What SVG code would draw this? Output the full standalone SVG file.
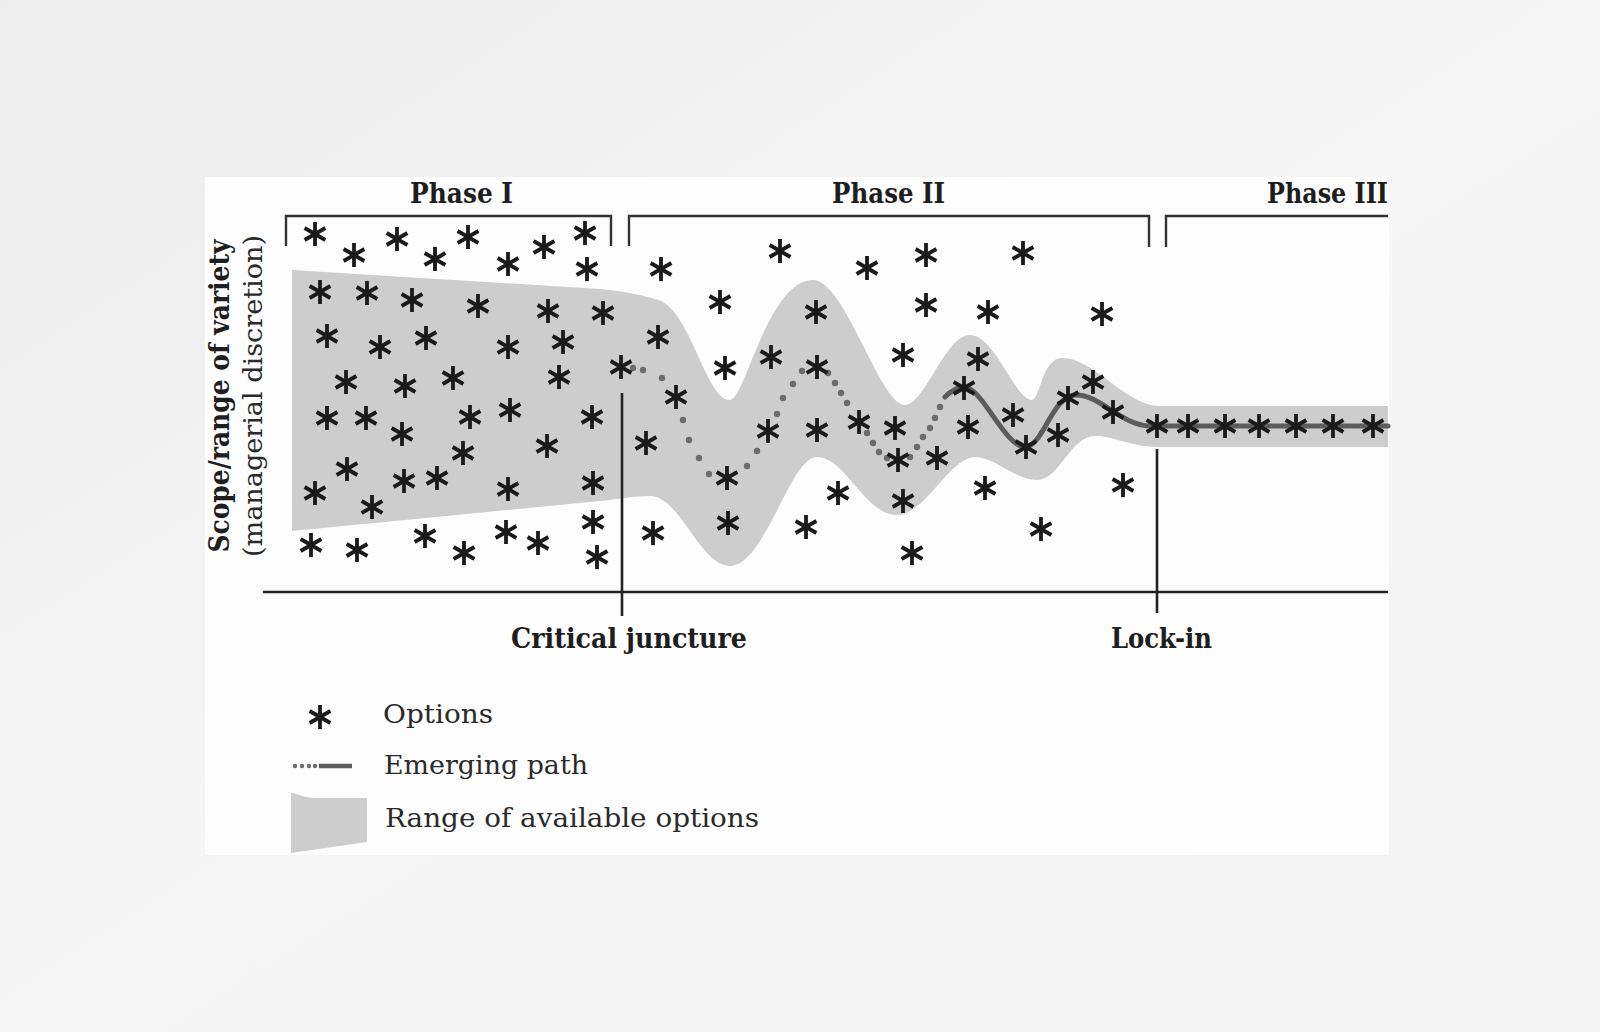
<svg xmlns="http://www.w3.org/2000/svg" width="1600" height="1032" viewBox="0 0 1600 1032">
  <defs>
    <linearGradient id="bg" x1="0" y1="0" x2="1" y2="1">
      <stop offset="0" stop-color="#ececec"/>
      <stop offset="0.5" stop-color="#f6f6f6"/>
      <stop offset="1" stop-color="#f3f3f3"/>
    </linearGradient>
    <g id="ast">
      <path d="M0,-12V12M-10.4,-6L10.4,6M-10.4,6L10.4,-6" fill="none" stroke="#1a1a1a" stroke-width="3.8"/>
    </g>
    <style>
      .title { font-family: "DejaVu Serif", "Liberation Serif", serif; font-weight: bold; font-size: 27px; fill: #1e1e1e; }
      .legend { font-family: "DejaVu Serif", "Liberation Serif", serif; font-size: 26px; fill: #2a2a2a; }
      .axis { fill: none; stroke: #222; stroke-width: 2.6; }
      .bracket { fill: none; stroke: #333; stroke-width: 2.4; }
      .band { fill: #cdcdcd; }
      .dot { fill: #6c6c6c; }
      .solid { fill: none; stroke: #5c5c5c; stroke-width: 5; stroke-linecap: round; stroke-linejoin: round; }
    </style>
  </defs>

  <g id="background">
    <rect x="0" y="0" width="1600" height="1032" fill="url(#bg)"/>
    <rect x="205" y="177" width="1184" height="678" fill="#fdfdfd"/>
  </g>

  <g id="band">
    <path class="band" d="M292,270 L600,289 C625,291 645,296 655,299 C690,305 705,400 730,400 C745,400 768,280 813,280 C845,280 880,405 905,405 C925,405 945,335 970,335 C995,335 1015,400 1032,400 C1040,400 1042,358 1062,358 C1095,358 1125,406 1160,406 L1388,406 L1388,447 L1160,447 C1130,447 1115,436 1095,436 C1070,436 1060,480 1037,480 C1015,480 995,457 975,457 C950,457 925,515 897,515 C865,515 845,457 817,457 C790,457 765,566 730,566 C700,566 680,496 650,496 C630,496 615,500 600,501 L292,531 Z"/>
  </g>

  <g id="brackets">
    <path class="bracket" d="M286,246 V216 H611 V246"/>
    <path class="bracket" d="M629,246 V216 H1149 V247"/>
    <path class="bracket" d="M1166,247 V216 H1388"/>
  </g>

  <g id="phase-labels">
    <text class="title" x="461.5" y="203" text-anchor="middle" textLength="103" lengthAdjust="spacingAndGlyphs">Phase I</text>
    <text class="title" x="888.5" y="203" text-anchor="middle" textLength="113" lengthAdjust="spacingAndGlyphs">Phase II</text>
    <text class="title" x="1327.5" y="203" text-anchor="middle" textLength="121" lengthAdjust="spacingAndGlyphs">Phase III</text>
  </g>

  <g id="axes">
    <line class="axis" x1="263" y1="592" x2="1388" y2="592"/>
    <line class="axis" x1="622" y1="393" x2="622" y2="616"/>
    <line class="axis" x1="1157" y1="449" x2="1157" y2="613"/>
  </g>

  <g id="axis-labels">
    <text class="title" font-size="26" transform="translate(229,396) rotate(-90)" text-anchor="middle" textLength="313" lengthAdjust="spacingAndGlyphs">Scope/range of variety</text>
    <text class="legend" transform="translate(262,396) rotate(-90)" text-anchor="middle" textLength="322" lengthAdjust="spacingAndGlyphs">(managerial discretion)</text>
    <text class="title" x="629" y="648" text-anchor="middle" textLength="236" lengthAdjust="spacingAndGlyphs">Critical juncture</text>
    <text class="title" x="1161.5" y="648" text-anchor="middle" textLength="101" lengthAdjust="spacingAndGlyphs">Lock-in</text>
  </g>

  <g id="connectors">
    <g id="emerging-path-dotted">
      <circle class="dot" cx="633" cy="368" r="3.2"/>
      <circle class="dot" cx="643" cy="370" r="3.2"/>
      <circle class="dot" cx="662" cy="378" r="3.2"/>
      <circle class="dot" cx="683" cy="420" r="3.2"/>
      <circle class="dot" cx="689" cy="440" r="3.2"/>
      <circle class="dot" cx="699" cy="458" r="3.2"/>
      <circle class="dot" cx="709" cy="474" r="3.2"/>
      <circle class="dot" cx="747" cy="466" r="3.2"/>
      <circle class="dot" cx="757" cy="451" r="3.2"/>
      <circle class="dot" cx="777" cy="414" r="3.2"/>
      <circle class="dot" cx="783" cy="398" r="3.2"/>
      <circle class="dot" cx="793" cy="384" r="3.2"/>
      <circle class="dot" cx="802" cy="371" r="3.2"/>
      <circle class="dot" cx="828" cy="373" r="3.2"/>
      <circle class="dot" cx="835" cy="383" r="3.2"/>
      <circle class="dot" cx="841" cy="393" r="3.2"/>
      <circle class="dot" cx="847" cy="403" r="3.2"/>
      <circle class="dot" cx="867" cy="433" r="3.2"/>
      <circle class="dot" cx="873" cy="443" r="3.2"/>
      <circle class="dot" cx="879" cy="452" r="3.2"/>
      <circle class="dot" cx="887" cy="458" r="3.2"/>
      <circle class="dot" cx="910" cy="457" r="3.2"/>
      <circle class="dot" cx="917" cy="447" r="3.2"/>
      <circle class="dot" cx="923" cy="437" r="3.2"/>
      <circle class="dot" cx="930" cy="428" r="3.2"/>
      <circle class="dot" cx="935" cy="418" r="3.2"/>
      <circle class="dot" cx="940" cy="407" r="3.2"/>
    </g>
    <path id="emerging-path-solid" class="solid" d="M945,397 C952,390 957,387 964,387 C982,387 1005,447 1025,447 C1043,447 1052,396 1075,395 C1100,394 1120,425 1150,426 L1388,426"/>
  </g>

  <g id="options">
    <use href="#ast" x="315" y="234"/><use href="#ast" x="354" y="255"/><use href="#ast" x="397" y="239"/>
    <use href="#ast" x="435" y="259"/><use href="#ast" x="468" y="237"/><use href="#ast" x="508" y="264"/>
    <use href="#ast" x="544" y="247"/><use href="#ast" x="585" y="233"/><use href="#ast" x="587" y="269"/>
    <use href="#ast" x="320" y="292"/><use href="#ast" x="367" y="293"/><use href="#ast" x="412" y="300"/>
    <use href="#ast" x="478" y="306"/><use href="#ast" x="548" y="311"/><use href="#ast" x="603" y="313"/>
    <use href="#ast" x="327" y="336"/><use href="#ast" x="380" y="347"/><use href="#ast" x="426" y="338"/>
    <use href="#ast" x="508" y="347"/><use href="#ast" x="563" y="342"/><use href="#ast" x="621" y="367"/>
    <use href="#ast" x="346" y="382"/><use href="#ast" x="405" y="386"/><use href="#ast" x="453" y="378"/>
    <use href="#ast" x="559" y="377"/><use href="#ast" x="327" y="418"/><use href="#ast" x="366" y="418"/>
    <use href="#ast" x="402" y="434"/><use href="#ast" x="470" y="417"/><use href="#ast" x="510" y="410"/>
    <use href="#ast" x="592" y="417"/><use href="#ast" x="547" y="446"/><use href="#ast" x="463" y="453"/>
    <use href="#ast" x="347" y="469"/><use href="#ast" x="315" y="493"/><use href="#ast" x="404" y="481"/>
    <use href="#ast" x="437" y="478"/><use href="#ast" x="508" y="489"/><use href="#ast" x="593" y="483"/>
    <use href="#ast" x="372" y="507"/><use href="#ast" x="311" y="545"/><use href="#ast" x="357" y="550"/>
    <use href="#ast" x="425" y="536"/><use href="#ast" x="506" y="532"/><use href="#ast" x="464" y="553"/>
    <use href="#ast" x="538" y="543"/><use href="#ast" x="593" y="522"/><use href="#ast" x="597" y="557"/>

    <use href="#ast" x="661" y="269"/><use href="#ast" x="780" y="251"/><use href="#ast" x="867" y="268"/>
    <use href="#ast" x="926" y="255"/><use href="#ast" x="1023" y="253"/><use href="#ast" x="720" y="302"/>
    <use href="#ast" x="816" y="312"/><use href="#ast" x="926" y="305"/><use href="#ast" x="988" y="312"/>
    <use href="#ast" x="1102" y="314"/><use href="#ast" x="658" y="337"/><use href="#ast" x="725" y="368"/>
    <use href="#ast" x="771" y="357"/><use href="#ast" x="817" y="367"/><use href="#ast" x="903" y="355"/>
    <use href="#ast" x="978" y="359"/><use href="#ast" x="676" y="397"/><use href="#ast" x="964" y="388"/>
    <use href="#ast" x="1093" y="382"/><use href="#ast" x="1068" y="398"/><use href="#ast" x="646" y="443"/>
    <use href="#ast" x="768" y="431"/><use href="#ast" x="817" y="430"/><use href="#ast" x="859" y="422"/>
    <use href="#ast" x="895" y="428"/><use href="#ast" x="968" y="427"/><use href="#ast" x="1013" y="415"/>
    <use href="#ast" x="1113" y="412"/><use href="#ast" x="898" y="460"/><use href="#ast" x="937" y="458"/>
    <use href="#ast" x="727" y="478"/><use href="#ast" x="1026" y="447"/><use href="#ast" x="1058" y="435"/>
    <use href="#ast" x="838" y="493"/><use href="#ast" x="903" y="501"/><use href="#ast" x="985" y="488"/>
    <use href="#ast" x="1123" y="485"/><use href="#ast" x="1041" y="529"/><use href="#ast" x="653" y="533"/>
    <use href="#ast" x="728" y="523"/><use href="#ast" x="806" y="527"/><use href="#ast" x="912" y="553"/>

    <use href="#ast" x="1157" y="426"/><use href="#ast" x="1188" y="426"/><use href="#ast" x="1225" y="426"/>
    <use href="#ast" x="1259" y="426"/><use href="#ast" x="1296" y="426"/><use href="#ast" x="1333" y="426"/>
    <use href="#ast" x="1373" y="426"/>
  </g>

  <g id="legend">
    <g id="legend-options">
      <use href="#ast" x="320" y="717"/>
      <text class="legend" x="383" y="723" textLength="110" lengthAdjust="spacingAndGlyphs">Options</text>
    </g>
    <g id="legend-path">
      <circle class="dot" cx="295" cy="766" r="2.2"/>
      <circle class="dot" cx="302" cy="766" r="2.2"/>
      <circle class="dot" cx="309" cy="766" r="2.2"/>
      <circle class="dot" cx="315" cy="766" r="2.2"/>
      <line x1="319" y1="766" x2="352" y2="766" stroke="#5c5c5c" stroke-width="4.5"/>
      <text class="legend" x="384" y="774" textLength="204" lengthAdjust="spacingAndGlyphs">Emerging path</text>
    </g>
    <g id="legend-range">
      <path class="band" d="M291,793 C300,794 305,798 315,798 L367,798 L367,842 L291,853 Z"/>
      <text class="legend" x="385" y="827" textLength="374" lengthAdjust="spacingAndGlyphs">Range of available options</text>
    </g>
  </g>
</svg>
